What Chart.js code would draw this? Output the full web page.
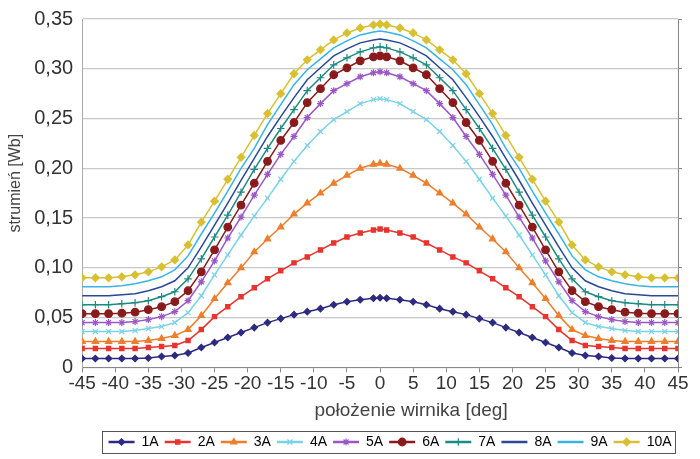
<!DOCTYPE html>
<html>
<head>
<meta charset="utf-8">
<script src="https://cdn.jsdelivr.net/npm/chart.js@4.4.0/dist/chart.umd.min.js"></script>
<style>
  html, body { margin: 0; padding: 0; background: #fff; }
  #wrap { width: 700px; height: 459px; }
</style>
</head>
<body>
<div id="wrap"><canvas id="myChart" width="700" height="459"></canvas></div>
<script>
// kąt położenia wirnika [deg]
const angles = [-45,-43,-41,-39,-37,-35,-33,-31,-29,-27,-25,-23,-21,-19,-17,-15,-13,-11,-9,-7,-5,-3,-1,0,
  1,3,5,7,9,11,13,15,17,19,21,23,25,27,29,31,33,35,37,39,41,43,45];

const seriesNames = ["1A","2A","3A","4A","5A","6A","7A","8A","9A","10A"];

// strumień [Wb]
const flux1A = [0.009,0.009,0.009,0.009,0.009,0.0095,0.011,0.012,0.0145,0.020,0.025,0.030,0.035,0.040,0.045,0.049,0.053,0.056,0.059,0.063,0.066,0.068,0.0695,0.070,
  0.0695,0.068,0.066,0.063,0.059,0.056,0.053,0.049,0.045,0.040,0.035,0.030,0.025,0.020,0.0145,0.012,0.011,0.0095,0.009,0.009,0.009,0.009,0.009];
const flux2A = [0.019,0.019,0.019,0.019,0.019,0.020,0.021,0.022,0.027,0.038,0.051,0.061,0.071,0.080,0.089,0.097,0.105,0.111,0.118,0.125,0.131,0.135,0.138,0.139,
  0.138,0.135,0.131,0.125,0.118,0.111,0.105,0.097,0.089,0.080,0.071,0.061,0.051,0.038,0.027,0.022,0.021,0.020,0.019,0.019,0.019,0.019,0.019];
const flux3A = [0.026,0.026,0.026,0.026,0.026,0.027,0.029,0.032,0.038,0.052,0.069,0.085,0.100,0.116,0.129,0.141,0.154,0.165,0.175,0.185,0.193,0.200,0.204,0.205,
  0.204,0.200,0.193,0.185,0.175,0.165,0.154,0.141,0.129,0.116,0.100,0.085,0.069,0.052,0.038,0.032,0.029,0.027,0.026,0.026,0.026,0.026,0.026];
const flux4A = [0.036,0.036,0.036,0.036,0.037,0.039,0.041,0.045,0.055,0.072,0.093,0.113,0.133,0.152,0.170,0.189,0.207,0.223,0.237,0.249,0.257,0.265,0.269,0.270,
  0.269,0.265,0.257,0.249,0.237,0.223,0.207,0.189,0.170,0.152,0.133,0.113,0.093,0.072,0.055,0.045,0.041,0.039,0.037,0.036,0.036,0.036,0.036];
const flux5A = [0.045,0.045,0.045,0.045,0.046,0.048,0.051,0.056,0.067,0.086,0.107,0.130,0.151,0.173,0.194,0.214,0.232,0.251,0.265,0.278,0.285,0.292,0.296,0.297,
  0.296,0.292,0.285,0.278,0.265,0.251,0.232,0.214,0.194,0.173,0.151,0.130,0.107,0.086,0.067,0.056,0.051,0.048,0.046,0.045,0.045,0.045,0.045];
const flux6A = [0.054,0.054,0.054,0.0545,0.0555,0.058,0.061,0.066,0.077,0.096,0.118,0.141,0.163,0.185,0.207,0.228,0.246,0.266,0.280,0.294,0.301,0.308,0.312,0.313,
  0.312,0.308,0.301,0.294,0.280,0.266,0.246,0.228,0.207,0.185,0.163,0.141,0.118,0.096,0.077,0.066,0.061,0.058,0.0555,0.0545,0.054,0.054,0.054];
const flux7A = [0.063,0.063,0.063,0.064,0.065,0.067,0.071,0.076,0.089,0.109,0.131,0.153,0.176,0.199,0.220,0.240,0.259,0.278,0.291,0.304,0.311,0.317,0.321,0.322,
  0.321,0.317,0.311,0.304,0.291,0.278,0.259,0.240,0.220,0.199,0.176,0.153,0.131,0.109,0.089,0.076,0.071,0.067,0.065,0.064,0.063,0.063,0.063];
const flux8A = [0.072,0.072,0.072,0.073,0.074,0.077,0.081,0.087,0.100,0.121,0.143,0.165,0.188,0.210,0.232,0.252,0.271,0.289,0.301,0.313,0.320,0.326,0.329,0.330,
  0.329,0.326,0.320,0.313,0.301,0.289,0.271,0.252,0.232,0.210,0.188,0.165,0.143,0.121,0.100,0.087,0.081,0.077,0.074,0.073,0.072,0.072,0.072];
const flux9A = [0.081,0.081,0.081,0.082,0.084,0.087,0.091,0.098,0.112,0.134,0.155,0.177,0.200,0.220,0.244,0.264,0.284,0.299,0.310,0.321,0.328,0.334,0.337,0.338,
  0.337,0.334,0.328,0.321,0.310,0.299,0.284,0.264,0.244,0.220,0.200,0.177,0.155,0.134,0.112,0.098,0.091,0.087,0.084,0.082,0.081,0.081,0.081];
const flux10A = [0.090,0.090,0.090,0.091,0.093,0.096,0.101,0.108,0.123,0.146,0.167,0.189,0.211,0.233,0.255,0.275,0.295,0.309,0.319,0.329,0.336,0.341,0.344,0.345,
  0.344,0.341,0.336,0.329,0.319,0.309,0.295,0.275,0.255,0.233,0.211,0.189,0.167,0.146,0.123,0.108,0.101,0.096,0.093,0.091,0.090,0.090,0.090];

const fluxes = [flux1A, flux2A, flux3A, flux4A, flux5A, flux6A, flux7A, flux8A, flux9A, flux10A];

const xTitle = "położenie wirnika [deg]";
const yTitle = "strumień [Wb]";

const colors = ["#2d2b80","#e8342f","#ef7e2c","#7ad2e6","#9b57c7","#8a1b1d","#1f8a82","#2a4896","#38b3e6","#d8c032"];
const markers = ["rectRot","rect","triangle","crossRot","star","circle","cross",false,false,"rectRot"];
const sizes = [3.2,3,3.6,3.5,3.5,3.8,3.8,0,0,3.8];

const datasets = seriesNames.map(function(name, i){
  return {
    label: name,
    data: angles.map(function(a, j){ return {x: a, y: fluxes[i][j]}; }),
    borderColor: colors[i],
    backgroundColor: colors[i],
    borderWidth: 1.5,
    pointStyle: markers[i],
    pointRadius: sizes[i],
    pointBorderWidth: 1.2,
    pointBorderColor: colors[i],
    pointBackgroundColor: colors[i],
    tension: 0
  };
});

const FONT = "Liberation Sans, Arial, sans-serif";

// legenda w ramce, linia + znacznik jak w Excelu
const legendMarkers = {
  id: "legendMarkers",
  afterUpdate(chart){
    // przesunięcie legendy lekko w prawo, jak w oryginale
    const lg = chart.legend;
    if (!lg || !lg.legendHitBoxes || !lg.legendHitBoxes.length) return;
    const boxes = lg.legendHitBoxes;
    const first = boxes[0], last = boxes[boxes.length - 1];
    const cur = (first.left + last.left + last.width) / 2;
    const target = (chart.chartArea.left + chart.chartArea.right) / 2 + 10;
    const dx = target - cur;
    lg.left += dx; lg.right += dx;
    boxes.forEach(function(b){ b.left += dx; });
  },
  afterDraw(chart){
    const lg = chart.legend;
    if (!lg || !lg.legendHitBoxes || !lg.legendHitBoxes.length) return;
    const ctx = chart.ctx;
    const boxes = lg.legendHitBoxes;
    const lw = chart.options.plugins.legend.labels.pointStyleWidth;
    ctx.save();
    boxes.forEach(function(b, i){
      const ds = chart.data.datasets[i];
      if (!ds.pointStyle) return;
      ctx.fillStyle = ds.borderColor;
      ctx.strokeStyle = ds.borderColor;
      ctx.lineWidth = 1.2;
      Chart.helpers.drawPoint(ctx, {pointStyle: ds.pointStyle, radius: ds.pointRadius, borderWidth: 1.2, rotation: 0},
        b.left + lw / 2, b.top + b.height / 2);
    });
    const first = boxes[0], last = boxes[boxes.length - 1];
    ctx.strokeStyle = "#555";
    ctx.lineWidth = 1;
    ctx.strokeRect(Math.round(first.left - 7) + 0.5, Math.round(first.top - 4) + 0.5,
      Math.round(last.left + last.width - first.left + 10), Math.round(first.height + 8));
    ctx.restore();
  }
};

// tytuły osi rysowane ręcznie - w oryginale są przesunięte względem środka
const axisTitles = {
  id: "axisTitles",
  afterDraw(chart){
    const ctx = chart.ctx;
    const xs = chart.scales.x, ys = chart.scales.y;
    ctx.save();
    ctx.fillStyle = "#444";
    ctx.textAlign = "center";
    ctx.textBaseline = "middle";
    ctx.font = "19px " + FONT;
    ctx.fillText(xTitle, (xs.left + xs.right) / 2 + 31, xs.bottom - 7 - 19 * 1.2 / 2);
    ctx.font = "16px " + FONT;
    ctx.translate(ys.left + 16 * 1.2 / 2, (ys.top + ys.bottom) / 2 - 10);
    ctx.rotate(-Math.PI / 2);
    ctx.fillText(yTitle, 0, 0);
    ctx.restore();
  }
};

const ctx = document.getElementById("myChart").getContext("2d");
const myChart = new Chart(ctx, {
  type: "line",
  data: { datasets: datasets },
  plugins: [legendMarkers, axisTitles],
  options: {
    responsive: false,
    animation: false,
    layout: { padding: { left: 6, right: 18, top: 0, bottom: 0 } },
    plugins: {
      tooltip: { enabled: false },
      legend: {
        position: "bottom",
        labels: {
          usePointStyle: true,
          pointStyle: "line",
          pointStyleWidth: 26,
          boxHeight: 14,
          padding: 6,
          color: "#333",
          font: { family: FONT, size: 14 },
          generateLabels: function(chart){
            return chart.data.datasets.map(function(ds, i){
              return { text: ds.label, strokeStyle: ds.borderColor, fillStyle: ds.borderColor,
                lineWidth: 2.5, pointStyle: "line", datasetIndex: i, hidden: false };
            });
          }
        }
      }
    },
    scales: {
      x: {
        type: "linear",
        min: -45, max: 45,
        grid: { display: true, drawOnChartArea: false, drawTicks: true, tickLength: 5, color: "#888" },
        border: { display: true, color: "#888" },
        ticks: { stepSize: 5, color: "#333", padding: 0, autoSkip: false, maxRotation: 0, minRotation: 0,
          font: { family: FONT, size: 19 } },
        title: { display: true, text: xTitle, color: "rgba(0,0,0,0)",
          font: { family: FONT, size: 19 }, padding: { top: 4, bottom: 7 } }
      },
      y: {
        min: 0, max: 0.35,
        grid: { color: "#c8c8c8", lineWidth: 1.2, drawTicks: false },
        border: { display: true, color: "#aaa" },
        ticks: { stepSize: 0.05, color: "#333", padding: 9, font: { family: FONT, size: 20, lineHeight: 1 },
          callback: function(v){ return v === 0 ? "0" : v.toFixed(2).replace(".", ","); } },
        title: { display: true, text: yTitle, color: "rgba(0,0,0,0)",
          font: { family: FONT, size: 16 }, padding: { top: 0, bottom: 0 } }
      },
      y2: {
        position: "right",
        min: 0, max: 0.35,
        grid: { display: true, drawOnChartArea: false, drawTicks: true, tickLength: 4, color: "#888" },
        border: { display: true, color: "#888" },
        ticks: { display: true, stepSize: 0.05, callback: function(){ return ""; }, padding: 0 }
      }
    }
  }
});
</script>
</body>
</html>
